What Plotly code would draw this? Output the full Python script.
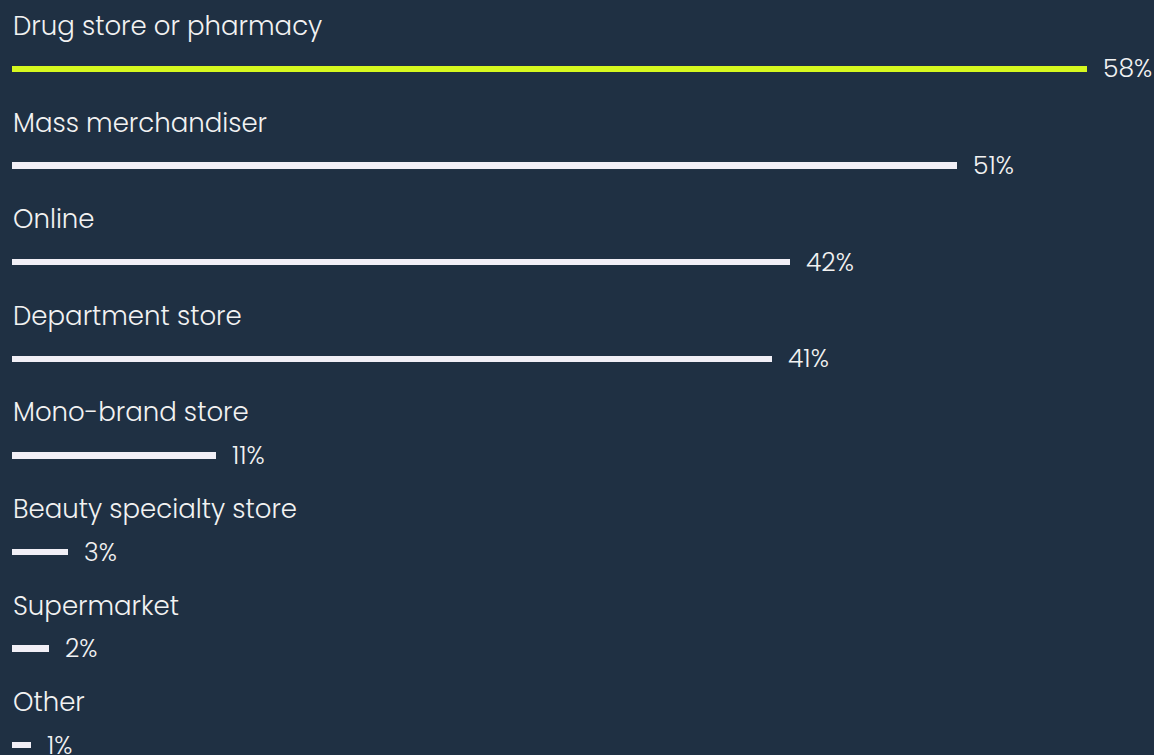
import plotly.graph_objects as go

channels = [
    "Drug store or pharmacy",
    "Mass merchandiser",
    "Online",
    "Department store",
    "Mono-brand store",
    "Beauty specialty store",
    "Supermarket",
    "Other",
]
shares = [58, 51, 42, 41, 11, 3, 2, 1]

BG = "#1f3043"
HIGHLIGHT = "#d6f81f"
BAR = "#f1eff6"
TEXT = "#f2f2f2"
FONT = "Poppins, Open Sans, sans-serif"

positions = list(range(len(channels)))
colors = [HIGHLIGHT if i == 0 else BAR for i in positions]

fig = go.Figure(
    go.Bar(
        x=shares,
        y=positions,
        orientation="h",
        marker=dict(color=colors, line=dict(width=0)),
        width=0.065,
        hoverinfo="skip",
    )
)

annotations = []
for i, (name, val) in enumerate(zip(channels, shares)):
    annotations.append(dict(
        x=0, y=i, xref="x", yref="y", text=name, showarrow=False,
        xanchor="left", yanchor="middle", yshift=43, xshift=-1,
        font=dict(family=FONT, size=26, color=TEXT, weight=300),
    ))
    annotations.append(dict(
        x=val, y=i, xref="x", yref="y", text=f"{val}%", showarrow=False,
        xanchor="left", yanchor="middle", xshift=14, yshift=0,
        font=dict(family=FONT, size=25, color=TEXT, weight=300),
    ))

fig.update_layout(
    width=1154, height=755,
    margin=dict(l=12, r=0, t=0, b=0),
    paper_bgcolor=BG, plot_bgcolor=BG,
    showlegend=False,
    bargap=0,
    annotations=annotations,
    xaxis=dict(range=[0, 1142 / 18.53], visible=False, fixedrange=True),
    yaxis=dict(range=[7.101, -0.714], visible=False, fixedrange=True),
)

fig.write_html("out.html")
